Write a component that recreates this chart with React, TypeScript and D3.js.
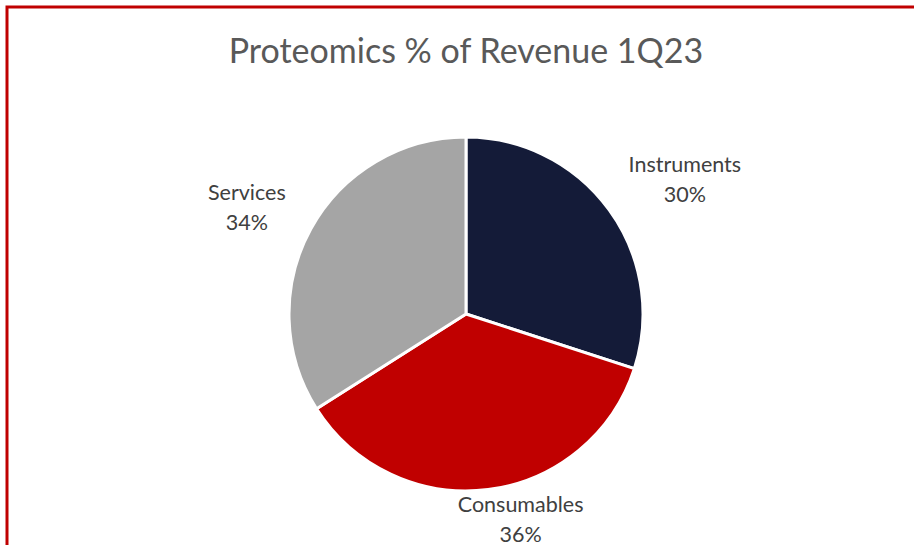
import * as React from "react"
import * as d3 from "d3"

const categories = ["Instruments", "Consumables", "Services"]
const shares = [30, 36, 34]
const sliceColors = ["#141B38", "#C00000", "#A5A5A5"]

const WIDTH = 914
const HEIGHT = 545
const FONT = "Lato, 'Open Sans', sans-serif"

// Excel "best fit" label placement, nudged from the outer centroid
const labelNudge: Array<[number, number]> = [[47, -11], [28, -7], [-33, -6]]

export default function App(): JSX.Element {
    const cx = 466
    const cy = 314
    const radius = 177

    const pie = d3.pie<number>().sort(null).value((d) => d)
    const arcs = pie(shares)
    const arcGen = d3.arc<d3.PieArcDatum<number>>().innerRadius(0).outerRadius(radius)
    const labelArc = d3.arc<d3.PieArcDatum<number>>().innerRadius(radius * 1.2).outerRadius(radius * 1.2)

    return (
        <svg width={WIDTH} height={HEIGHT} style={{ position: "absolute", left: 0, top: 0, display: "block" }}>
            <rect x={0} y={0} width={WIDTH} height={HEIGHT} fill="#ffffff" />
            {/* frame runs off the right/bottom edge of the picture */}
            <rect x={7} y={7} width={WIDTH + 20} height={HEIGHT + 20} fill="none" stroke="#C00000" strokeWidth={3} />
            <text x={cx} y={63} textAnchor="middle" fontFamily={FONT} fontSize={34} fill="#595959">
                Proteomics % of Revenue 1Q23
            </text>
            <g transform={`translate(${cx},${cy})`}>
                {arcs.map((a, i) => (
                    <path key={categories[i]} d={arcGen(a) || ""} fill={sliceColors[i]} stroke="#ffffff" strokeWidth={3} strokeLinejoin="round" />
                ))}
                {arcs.map((a, i) => {
                    const [lx, ly] = labelArc.centroid(a)
                    const x = lx + labelNudge[i][0]
                    const y = ly + labelNudge[i][1]
                    return (
                        <text key={"l" + i} textAnchor="middle" fontFamily={FONT} fontSize={21.5} fill="#404040">
                            <tspan x={x} y={y - 6}>{categories[i]}</tspan>
                            <tspan x={x} y={y + 24}>{shares[i]}%</tspan>
                        </text>
                    )
                })}
            </g>
        </svg>
    )
}
